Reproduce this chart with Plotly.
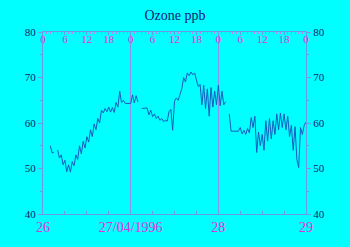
import plotly.graph_objects as go

# hours since 26/04/1996 00:00, half-hourly
hours = [i * 0.5 for i in range(145)]
ozone = [
    None, None, None, None, 55.0, 53.4, 53.6, None, 54.1, 52.3,   # 0-4.5
    53.0, 50.8, 51.8, 49.3, 50.8, 49.2, 51.5, 50.6, 53.0, 52.0,   # 5-9.5
    55.0, 53.2, 56.0, 54.5, 57.0, 55.8, 58.5, 57.0, 59.8, 58.5,   # 10-14.5
    61.0, 60.0, 62.8, 62.2, 63.2, 62.5, 63.5, 62.4, 63.4, 62.3,   # 15-19.5
    64.5, 63.5, 67.0, 64.5, 65.0, 64.3, 64.3, 64.3, 64.3, 66.2,   # 20-24.5
    64.4, 66.0, 64.6, None, 63.2, 63.2, 63.2, 63.3, 61.8, 62.8,   # 25-29.5
    61.4, 62.0, 61.0, 61.5, 60.6, 61.0, 60.3, 60.6, 60.4, 62.5,   # 30-34.5
    63.0, 58.4, 64.8, 65.5, 65.0, 66.2, 67.5, 70.0, 69.0, 71.0,   # 35-39.5
    70.4, 71.2, 70.6, 71.0, 69.5, 68.0, 68.5, 64.0, 68.3, 63.2,   # 40-44.5
    67.5, 61.5, 67.8, 63.5, 67.0, 64.0, 68.3, 63.8, 67.0, 64.0,   # 45-49.5
    64.7, None, 62.0, 58.2, 58.2, 58.2, 58.2, 58.2, 59.0, 57.6,   # 50-54.5
    58.4, 57.5, 58.8, 57.8, 61.2, 59.0, 61.5, 53.5, 58.0, 55.0,   # 55-59.5
    57.5, 54.0, 60.5, 56.0, 61.0, 56.5, 60.5, 57.5, 62.0, 58.5,   # 60-64.5
    62.2, 59.0, 62.0, 58.5, 61.5, 57.0, 59.5, 54.0, 59.2, 52.0,   # 65-69.5
    50.2, 59.0, 57.5, 59.5, 60.2                                   # 70-72
]

bottom_tickvals = [0, 24, 48, 72]
bottom_ticktext = ["26", "27/04/1996", "28", "29"]
top_tickvals = [i * 6 for i in range(13)]
top_ticktext = ["0", "6", "12", "18"] * 3 + ["0"]
y_ticks = [40, 50, 60, 70, 80]

BG = "#00FFFF"
NAVY = "#101870"
MAG = "#E030E0"
AX = "#6A9BE8"
GRID = "#8A90EC"
MINOR = "#C080F0"
LINE = "#1A5CC0"
FONT = "Liberation Serif"

fig = go.Figure()
fig.add_trace(go.Scatter(x=hours, y=ozone, mode="lines",
                         line=dict(color=LINE, width=1), connectgaps=False,
                         showlegend=False, hoverinfo="skip"))
fig.add_trace(go.Scatter(x=[0, 72], y=[40, 80], mode="none", xaxis="x2", yaxis="y2",
                         showlegend=False, hoverinfo="skip"))

fig.update_layout(
    width=350, height=247,
    margin=dict(l=43, r=44, t=32, b=30),
    paper_bgcolor=BG, plot_bgcolor=BG,
    title=dict(text="Ozone ppb", x=0.5, xanchor="center", y=0.94, yanchor="middle",
               font=dict(family=FONT, size=14, color=NAVY)),
    xaxis=dict(range=[0, 72], tickvals=bottom_tickvals, ticktext=bottom_ticktext,
               ticks="inside", ticklen=3, tickcolor=AX,
               minor=dict(dtick=6, ticks="inside", ticklen=3, tickcolor=AX, showgrid=False),
               showline=True, linecolor=AX, linewidth=1, mirror=False,
               showgrid=True, gridcolor=GRID, gridwidth=1, zeroline=False,
               tickfont=dict(family=FONT, size=14, color=MAG)),
    xaxis2=dict(range=[0, 72], overlaying="x", side="top", anchor="y",
                tickvals=top_tickvals, ticktext=top_ticktext,
                ticks="inside", ticklen=3, tickcolor=AX, ticklabelposition="inside",
                ticklabeloverflow="allow",
                minor=dict(dtick=1, ticks="inside", ticklen=2, tickcolor=MINOR, showgrid=False),
                showline=True, linecolor=AX, linewidth=1, showgrid=False, zeroline=False,
                tickfont=dict(family=FONT, size=11, color=MAG)),
    yaxis=dict(range=[40, 80], tickvals=y_ticks, ticks="outside", ticklen=4, tickcolor=AX,
               minor=dict(dtick=5, ticks="outside", ticklen=2, tickcolor=AX, showgrid=False),
               showline=True, linecolor=AX, linewidth=1, showgrid=False, zeroline=False,
               tickfont=dict(family=FONT, size=11, color=NAVY)),
    yaxis2=dict(range=[40, 80], overlaying="y", side="right", anchor="x",
                tickvals=y_ticks, ticks="outside", ticklen=4, tickcolor=AX,
                minor=dict(dtick=5, ticks="outside", ticklen=2, tickcolor=AX, showgrid=False),
                showline=True, linecolor=AX, linewidth=1, showgrid=False, zeroline=False,
                tickfont=dict(family=FONT, size=11, color=NAVY)),
)

fig.write_html("out.html")
